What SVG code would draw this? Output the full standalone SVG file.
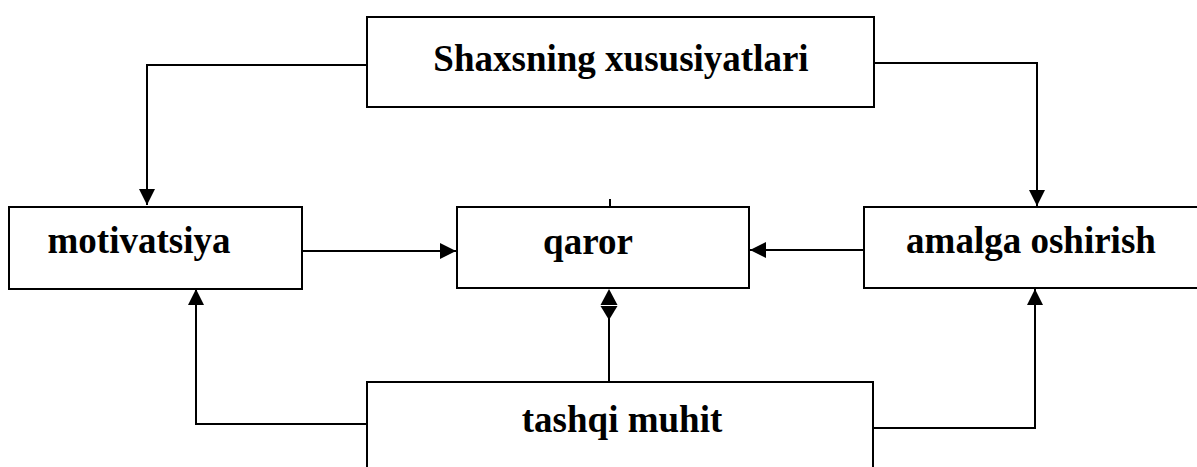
<svg xmlns="http://www.w3.org/2000/svg" width="1197" height="467" viewBox="0 0 1197 467">
<style>
.box{fill:#fff;stroke:#000;stroke-width:2}
.lbl{font-family:"Liberation Serif","Times New Roman",serif;font-weight:bold;font-size:37px;fill:#000}
.ln{fill:none;stroke:#000;stroke-width:2}
</style>
<defs>
<marker id="ah" markerUnits="userSpaceOnUse" markerWidth="16" markerHeight="16" viewBox="0 0 16 16" refX="16" refY="8" orient="auto">
<path d="M0,0 L16,8 L0,16 Z" fill="#000"/>
</marker>
</defs>
<rect width="1197" height="467" fill="#fff"/>
<g id="connectors">
<path class="ln" d="M367,65 H147 V205" marker-end="url(#ah)"/>
<path class="ln" d="M874,63 H1037 V206" marker-end="url(#ah)"/>
<path class="ln" d="M302,251 H456" marker-end="url(#ah)"/>
<path class="ln" d="M864,250 H750" marker-end="url(#ah)"/>
<path class="ln" d="M367,424 H196 V289" marker-end="url(#ah)"/>
<path class="ln" d="M874,428 H1035 V289" marker-end="url(#ah)"/>
<path class="ln" d="M609,381 V306"/>
<path d="M609,289 L617.5,305 L600.5,305 Z" fill="#000"/>
<path d="M600.5,306 L617.5,306 L609,320 Z" fill="#000"/>
<path class="ln" d="M610,199 V207"/>
</g>
<g id="node-shaxs">
<rect class="box" x="367" y="17" width="507" height="90"/>
<text class="lbl" x="621" y="71" text-anchor="middle">Shaxsning xususiyatlari</text>
</g>
<g id="node-motivatsiya">
<rect class="box" x="9" y="207" width="293" height="82"/>
<text class="lbl" x="139" y="253" text-anchor="middle">motivatsiya</text>
</g>
<g id="node-qaror">
<rect class="box" x="457" y="207" width="292" height="81"/>
<text class="lbl" x="588" y="254" text-anchor="middle">qaror</text>
</g>
<g id="node-amalga">
<rect class="box" x="864" y="207" width="350" height="81"/>
<text class="lbl" x="1031" y="253" text-anchor="middle">amalga oshirish</text>
</g>
<g id="node-tashqi">
<rect class="box" x="367" y="382" width="506" height="100"/>
<text class="lbl" x="622" y="432" text-anchor="middle">tashqi muhit</text>
</g>
</svg>
